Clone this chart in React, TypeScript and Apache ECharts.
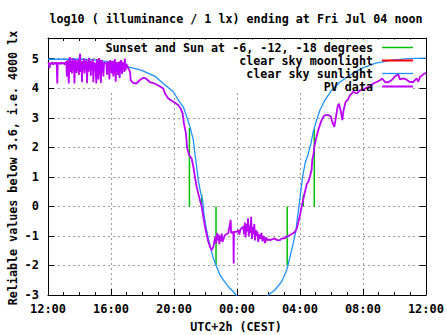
import React, { useEffect, useRef } from "react";
import * as echarts from "echarts";

// time in hours after Thu 12:00 (CEST), value = log10(lx)
const xTickLabels = ["12:00", "16:00", "20:00", "00:00", "04:00", "08:00", "12:00"];

const titleText = "log10 ( illuminance / 1 lx) ending at Fri Jul 04 noon";
const yAxisTitle = "Reliable values below 3.6, i.e. 4000 lx";
const xAxisTitle = "UTC+2h (CEST)";
const legendNames = [
  "Sunset and Sun at -6, -12, -18 degrees",
  "clear sky moonlight",
  "clear sky sunlight",
  "PV data",
];

const sunlight: [number, number][] = [
  [0.0, 4.98], [2.1, 4.98], [3.17, 4.95], [4.23, 4.86], [5.08, 4.72], [5.92, 4.61],
  [6.77, 4.41], [7.32, 4.16], [7.96, 3.88], [8.27, 3.6], [8.59, 3.37], [8.81, 3.03],
  [9.02, 2.69], [9.23, 2.24], [9.33, 1.79], [9.44, 1.34], [9.54, 0.89], [9.7, 0.44],
  [9.82, 0.21], [9.9, -0.24], [10.03, -0.69], [10.18, -1.08], [10.33, -1.42],
  [10.5, -1.76], [10.71, -2.04], [10.92, -2.32], [11.13, -2.49], [11.45, -2.72],
  [11.77, -2.89], [11.94, -3.0], [12.5, -3.4], [13.0, -3.5], [13.5, -3.4],
  [13.99, -3.0], [14.41, -2.83], [14.84, -2.55], [15.16, -2.15], [15.37, -1.7],
  [15.57, -1.25], [15.73, -0.86], [15.85, -0.35], [15.96, 0.1], [16.06, 0.55],
  [16.17, 1.0], [16.32, 1.45], [16.51, 1.75], [16.7, 2.13], [16.84, 2.52],
  [17.06, 2.92], [17.27, 3.26], [17.59, 3.6], [18.01, 3.93], [18.54, 4.21],
  [19.17, 4.44], [19.92, 4.67], [20.76, 4.84], [21.82, 4.95], [22.88, 5.0], [24.0, 5.02],
];

const moonlight: [number, number][] = [];

const pvData: [number, number][] = [
  [0.0, 4.84], [0.05, 4.87], [0.1, 4.68], [0.13, 4.85], [0.2, 4.82], [0.27, 4.88],
  [0.33, 4.8], [0.4, 4.86], [0.47, 4.83], [0.55, 4.87], [0.59, 4.16], [0.62, 4.84],
  [0.7, 4.86], [0.78, 4.81], [0.85, 4.88], [0.92, 4.83], [1.0, 4.86], [1.07, 4.8],
  [1.12, 4.87], [1.16, 4.9], [1.2, 4.4], [1.24, 4.95], [1.28, 4.6], [1.32, 4.16],
  [1.36, 4.9], [1.4, 5.05], [1.44, 4.55], [1.48, 4.92], [1.52, 4.5], [1.56, 5.02],
  [1.6, 4.65], [1.64, 4.95], [1.68, 4.16], [1.72, 4.88], [1.76, 4.98], [1.8, 4.52],
  [1.84, 4.9], [1.88, 4.6], [1.92, 4.98], [1.96, 4.45], [2.0, 4.95], [2.04, 5.17],
  [2.08, 4.55], [2.12, 4.9], [2.16, 4.2], [2.2, 4.93], [2.24, 4.62], [2.28, 5.0],
  [2.32, 4.5], [2.36, 4.92], [2.4, 4.66], [2.44, 4.98], [2.48, 4.17], [2.52, 4.9],
  [2.56, 4.55], [2.6, 5.02], [2.64, 4.6], [2.68, 4.93], [2.72, 4.42], [2.76, 4.9],
  [2.8, 4.64], [2.84, 4.98], [2.88, 4.2], [2.92, 4.88], [2.96, 4.58], [3.0, 4.86],
  [3.07, 4.16], [3.1, 4.98], [3.15, 4.84], [3.2, 4.3], [3.24, 5.02], [3.3, 4.85],
  [3.36, 4.18], [3.4, 4.96], [3.46, 4.83], [3.52, 4.4], [3.56, 4.88], [3.62, 4.84],
  [3.7, 4.85], [3.75, 4.46], [3.79, 4.9], [3.85, 4.8], [3.9, 4.3], [3.94, 4.95],
  [4.0, 4.84], [4.05, 4.5], [4.09, 4.92], [4.15, 4.4], [4.19, 4.86], [4.25, 4.98],
  [4.3, 4.22], [4.34, 4.88], [4.4, 4.82], [4.45, 4.45], [4.5, 4.9], [4.55, 4.35],
  [4.6, 4.86], [4.65, 4.95], [4.7, 4.48], [4.74, 4.88], [4.8, 4.84], [4.85, 4.55],
  [4.88, 5.0], [4.93, 4.6], [4.97, 4.82], [5.08, 4.7], [5.21, 4.55], [5.25, 4.27],
  [5.4, 4.18], [5.61, 4.16], [5.82, 4.27], [6.03, 4.35], [6.22, 4.33], [6.46, 4.21],
  [6.77, 4.16], [6.98, 4.1], [7.32, 3.99], [7.43, 3.82], [7.64, 3.65], [7.96, 3.54],
  [8.27, 3.43], [8.43, 3.31], [8.55, 3.14], [8.63, 2.81], [8.76, 2.47], [8.84, 1.96],
  [8.97, 1.73], [9.12, 1.62], [9.23, 1.34], [9.33, 1.0], [9.44, 0.66], [9.54, 0.44],
  [9.65, 0.21], [9.76, -0.01], [9.86, -0.35], [9.97, -0.69], [10.08, -0.97],
  [10.18, -1.2], [10.29, -1.37], [10.39, -1.48], [10.5, -1.37], [10.56, -1.2],
  [10.62, -1.03], [10.68, -1.25], [10.73, -0.9], [10.78, -1.15], [10.83, -0.95],
  [10.88, -1.28], [10.93, -1.0], [10.98, -1.18], [11.03, -0.92], [11.08, -1.2],
  [11.24, -0.97], [11.45, -0.91], [11.6, -0.46], [11.63, -0.9], [11.77, -0.86],
  [11.79, -1.93], [11.81, -0.86], [11.98, -0.86], [12.08, -0.8], [12.15, -0.95],
  [12.22, -0.78], [12.4, -0.69], [12.45, -0.95], [12.5, -0.55], [12.55, -1.05],
  [12.6, -0.6], [12.65, -0.85], [12.7, -0.4], [12.75, -1.0], [12.8, -0.65],
  [12.85, -0.9], [12.9, -0.35], [12.95, -1.1], [13.0, -0.7], [13.05, -0.95],
  [13.1, -0.6], [13.15, -1.15], [13.2, -0.8], [13.25, -1.0], [13.3, -0.85],
  [13.35, -1.2], [13.4, -0.95], [13.48, -1.1], [13.55, -0.9], [13.62, -1.18],
  [13.7, -1.0], [13.78, -1.24], [13.85, -1.05], [13.92, -1.15], [14.0, -1.12],
  [14.1, -1.14], [14.41, -1.08], [14.52, -1.14], [14.73, -1.14], [14.84, -1.08],
  [15.05, -1.08], [15.11, -1.03], [15.26, -1.0], [15.37, -0.97], [15.57, -0.91],
  [15.68, -0.86], [15.79, -0.77], [15.89, -0.55], [16.0, -0.3], [16.11, 0.0],
  [16.21, 0.24], [16.32, 0.5], [16.43, 0.75], [16.53, 0.83], [16.63, 1.0],
  [16.74, 1.23], [16.78, 1.57], [16.87, 1.79], [16.91, 2.02], [17.0, 2.24],
  [17.16, 2.58], [17.33, 2.86], [17.48, 3.03], [17.59, 3.09], [17.8, 3.09],
  [17.97, 3.03], [18.05, 2.86], [18.18, 2.69], [18.27, 2.97], [18.39, 3.37],
  [18.48, 3.48], [18.6, 3.2], [18.69, 2.92], [18.77, 3.26], [18.9, 3.54],
  [19.03, 3.6], [19.17, 3.76], [19.38, 3.88], [19.6, 3.82], [19.81, 3.93],
  [20.02, 3.95], [20.23, 4.02], [20.44, 4.05], [20.65, 4.16], [20.87, 4.21],
  [21.08, 4.27], [21.22, 4.33], [21.4, 4.21], [21.61, 4.2], [21.82, 4.27],
  [22.03, 4.4], [22.24, 4.47], [22.35, 4.3], [22.56, 4.33], [22.77, 4.29],
  [22.98, 4.21], [23.19, 4.21], [23.41, 4.33], [23.51, 4.22], [23.62, 4.38],
  [23.83, 4.47], [24.0, 4.52],
];

// sunset / sunrise and twilight markers: [time, line end value] (line starts at 0)
const sunEvents: [number, number][] = [
  [8.98, 2.65], [9.76, 0.4], [10.67, -2.0], [15.19, -2.0], [16.21, 0.4], [16.91, 2.6],
];

const FONT = '"DejaVu Sans Mono", "Liberation Mono", monospace';
const GREEN = "#00c000";
const RED = "#ff0000";
const BLUE = "#1e90ff";
const PURPLE = "#bb00ff";

export default function App() {
  const ref = useRef<HTMLDivElement>(null);
  useEffect(() => {
    if (!ref.current) return;
    const chart = echarts.init(ref.current, null, { renderer: "svg" });
    const sx = 0.9;
    const axisCommon = {
      type: "value" as const,
      axisLine: { show: true, onZero: false, lineStyle: { color: "#000", width: 1 } },
      axisTick: { show: true, inside: true, length: 6, lineStyle: { color: "#000" } },
    };
    const legendRows = [47.5, 60.5, 73.5, 86.5];
    const legendColors = [GREEN, RED, BLUE, PURPLE];
    const graphics: any[] = [
      { type: "rect", z: 1, silent: true, shape: { x: 99, y: 39.5, width: 314, height: 52 }, style: { fill: "#fff" } },
      {
        type: "text", z: 10, x: 236, y: 19, scaleX: sx,
        style: { text: titleText, font: `bold 13px ${FONT}`, fill: "#000", textAlign: "center", textVerticalAlign: "middle" },
      },
      {
        type: "text", z: 10, x: 236, y: 327, scaleX: sx,
        style: { text: xAxisTitle, font: `bold 13px ${FONT}`, fill: "#000", textAlign: "center", textVerticalAlign: "middle" },
      },
      {
        type: "text", z: 10, x: 13, y: 168, rotation: Math.PI / 2, scaleX: sx,
        style: { text: yAxisTitle, font: `bold 13px ${FONT}`, fill: "#000", textAlign: "center", textVerticalAlign: "middle" },
      },
    ];
    legendNames.forEach((name, i) => {
      graphics.push({
        type: "text", z: 10, x: 373, y: legendRows[i], scaleX: sx,
        style: { text: name, font: `bold 13px ${FONT}`, fill: "#000", textAlign: "right", textVerticalAlign: "middle" },
      });
      graphics.push({
        type: "line", z: 10,
        shape: { x1: 382, y1: legendRows[i], x2: 413, y2: legendRows[i] },
        style: { stroke: legendColors[i], lineWidth: i === 2 ? 1.3 : i === 0 ? 1.5 : 2 },
      });
    });

    const series: any[] = sunEvents.map(([t, v]) => ({
      type: "line",
      data: [[t, 0], [t, v]],
      symbol: "none",
      lineStyle: { color: GREEN, width: 1.5 },
      z: 2,
    }));
    series.push({ type: "line", data: moonlight, symbol: "none", lineStyle: { color: RED, width: 2 }, z: 3 });
    series.push({ type: "line", data: sunlight, symbol: "none", lineStyle: { color: BLUE, width: 1.3 }, z: 3 });
    series.push({ type: "line", data: pvData, symbol: "none", lineStyle: { color: PURPLE, width: 1.8 }, z: 4 });

    chart.setOption({
      animation: false,
      backgroundColor: "#fff",
      grid: { left: 48, right: 21, top: 38, bottom: 40, containLabel: false },
      xAxis: [
        {
          ...axisCommon,
          position: "bottom",
          min: 0, max: 24, interval: 4,
          minorTick: { show: true, splitNumber: 4, length: 3, lineStyle: { color: "#000" } },
          axisLabel: {
            margin: 8,
            fontFamily: FONT, fontWeight: "bold", fontSize: 12, color: "#000",
            formatter: (v: number) => (v % 4 === 0 ? xTickLabels[Math.round(v / 4)] : ""),
          },
          splitLine: { show: true, lineStyle: { color: "#9a9a9a", type: [2, 3], width: 1 } },
        },
        {
          ...axisCommon,
          position: "top",
          min: 0, max: 24, interval: 4,
          minorTick: { show: true, splitNumber: 4, length: 3, lineStyle: { color: "#000" } },
          axisLabel: { show: false },
          splitLine: { show: false },
        },
      ],
      yAxis: [
        {
          ...axisCommon,
          position: "left",
          min: -3, max: 5.7, interval: 1,
          axisLabel: {
            margin: 9,
            fontFamily: FONT, fontWeight: "bold", fontSize: 12, color: "#000",
            formatter: (v: number) => (Math.abs(v - Math.round(v)) < 1e-6 ? String(Math.round(v)) : ""),
          },
          splitLine: { show: true, lineStyle: { color: "#9a9a9a", type: [2, 3], width: 1 } },
        },
        {
          ...axisCommon,
          position: "right",
          min: -3, max: 5.7, interval: 1,
          axisLabel: { show: false },
          splitLine: { show: false },
        },
      ],
      graphic: graphics,
      series,
    });
    return () => chart.dispose();
  }, []);
  return (
    <div
      ref={ref}
      style={{ position: "fixed", left: 0, top: 0, width: 447, height: 335, background: "#fff" }}
    />
  );
}
